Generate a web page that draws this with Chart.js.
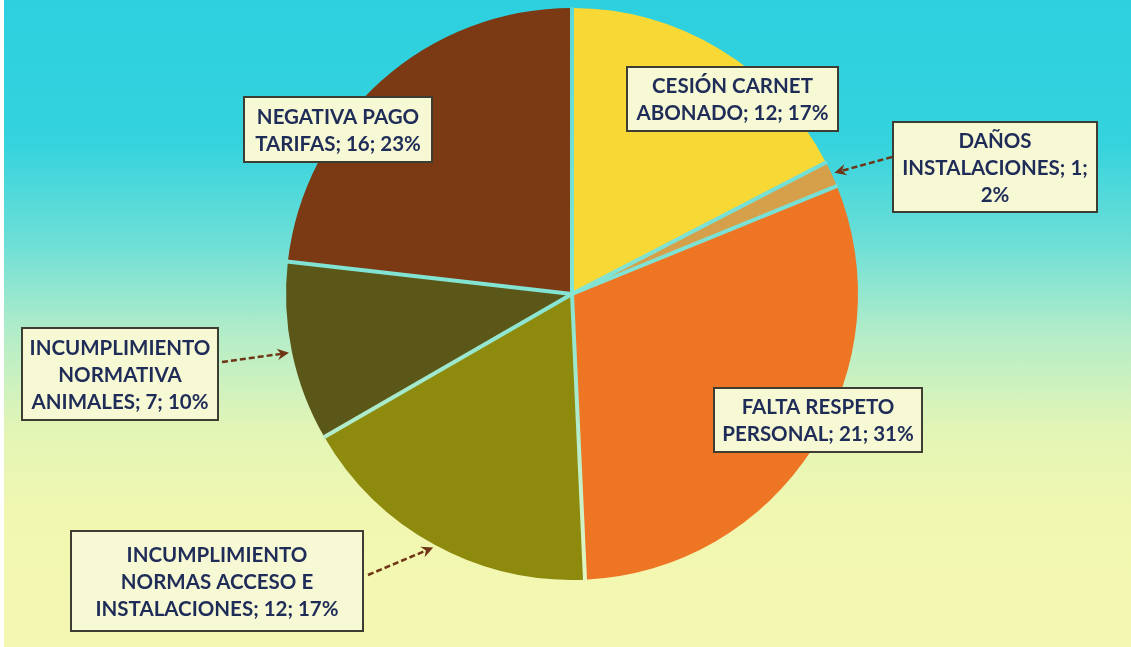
<!DOCTYPE html>
<html>
<head>
<meta charset="utf-8">
<script src="https://cdn.jsdelivr.net/npm/chart.js@4.4.1/dist/chart.umd.min.js"></script>
<style>
  html, body { margin: 0; padding: 0; }
  body {
    width: 1131px; height: 647px; overflow: hidden;
    background: #fff;
  }
  .wrap {
    position: absolute; left: 4px; top: 0; width: 1127px; height: 647px;
    background: linear-gradient(to bottom, #2dd0df 0%, #34d3de 22%, #6fdfd6 38%, #b5edc8 52%, #e2f5b6 66%, #f1f7b0 80%, #f4f7b2 100%);
  }
  canvas { position: absolute; left: -4px; top: 0; }
</style>
</head>
<body>
<div class="wrap">
  <canvas id="pieChart" width="1131" height="647"></canvas>
</div>
<script>
const ctxPie = document.getElementById('pieChart');

let categories = ['CESIÓN CARNET ABONADO', 'DAÑOS INSTALACIONES', 'FALTA RESPETO PERSONAL',
  'INCUMPLIMIENTO NORMAS ACCESO E INSTALACIONES', 'INCUMPLIMIENTO NORMATIVA ANIMALES', 'NEGATIVA PAGO TARIFAS'];
let values = [12, 1, 21, 12, 7, 16];
let percents = [17, 2, 31, 17, 10, 23];
let sliceColors = ['#f8d835', '#d6a04a', '#ee7523', '#8d8a0e', '#5b5719', '#7b3a13'];

// label boxes: x, y, w, h, wrap width, arrow start (null = no arrow)
let boxes = [
  { x: 627, y: 67, w: 211, h: 64, wrap: 205, arrow: null },
  { x: 893, y: 122, w: 204, h: 90, wrap: 195, arrow: [892, 157] },
  { x: 714, y: 388, w: 208, h: 64, wrap: 200, arrow: null },
  { x: 71, y: 531, w: 292, h: 100, wrap: 258, arrow: [368, 575] },
  { x: 22, y: 328, w: 196, h: 92, wrap: 192, arrow: [222, 362] },
  { x: 244, y: 97, w: 188, h: 65, wrap: 185, arrow: null }
];

function wrapText(ctx, text, maxW) {
  let words = text.split(' ');
  let lines = [];
  let cur = '';
  words.forEach(w => {
    let test = cur ? cur + ' ' + w : w;
    if (cur && ctx.measureText(test).width > maxW) {
      lines.push(cur);
      cur = w;
    } else {
      cur = test;
    }
  });
  if (cur) lines.push(cur);
  return lines;
}

// thin light lines between the slices
const separatorPlugin = {
  id: 'separators',
  afterDatasetsDraw(chart) {
    const ctx = chart.ctx;
    const arcs = chart.getDatasetMeta(0).data;
    const grad = ctx.createLinearGradient(0, 0, 0, chart.height);
    grad.addColorStop(0, '#5ad8d9');
    grad.addColorStop(0.45, '#84e4d3');
    grad.addColorStop(0.9, '#e6f5c2');
    ctx.save();
    ctx.strokeStyle = grad;
    ctx.lineWidth = 4;
    arcs.forEach(arc => {
      ctx.beginPath();
      ctx.moveTo(arc.x, arc.y);
      ctx.lineTo(arc.x + Math.cos(arc.startAngle) * (arc.outerRadius + 1),
                 arc.y + Math.sin(arc.startAngle) * (arc.outerRadius + 1));
      ctx.stroke();
    });
    ctx.restore();
  }
};

const labelPlugin = {
  id: 'labelBoxes',
  afterDatasetsDraw(chart) {
    const ctx = chart.ctx;
    const arcs = chart.getDatasetMeta(0).data;
    ctx.save();
    ctx.font = 'bold 20.5px Lato, "DejaVu Sans", sans-serif';
    arcs.forEach((arc, i) => {
      const b = boxes[i];
      if (b.arrow) {
        const mid = (arc.startAngle + arc.endAngle) / 2;
        const r = arc.outerRadius + 3;
        const tx = arc.x + Math.cos(mid) * r;
        const ty = arc.y + Math.sin(mid) * r;
        const sx = b.arrow[0], sy = b.arrow[1];
        const ang = Math.atan2(ty - sy, tx - sx);
        ctx.strokeStyle = '#6e3516';
        ctx.fillStyle = '#6e3516';
        ctx.lineWidth = 2.5;
        ctx.setLineDash([6, 3]);
        ctx.beginPath();
        ctx.moveTo(sx, sy);
        ctx.lineTo(tx - Math.cos(ang) * 8, ty - Math.sin(ang) * 8);
        ctx.stroke();
        ctx.setLineDash([]);
        ctx.beginPath();
        ctx.moveTo(tx, ty);
        ctx.lineTo(tx - Math.cos(ang - 0.45) * 13, ty - Math.sin(ang - 0.45) * 13);
        ctx.lineTo(tx - Math.cos(ang) * 8, ty - Math.sin(ang) * 8);
        ctx.lineTo(tx - Math.cos(ang + 0.45) * 13, ty - Math.sin(ang + 0.45) * 13);
        ctx.closePath();
        ctx.fill();
      }
      ctx.fillStyle = '#f6f9d4';
      ctx.fillRect(b.x, b.y, b.w, b.h);
      ctx.strokeStyle = '#3e3d33';
      ctx.lineWidth = 2;
      ctx.strokeRect(b.x, b.y, b.w, b.h);

      const text = categories[i] + '; ' + values[i] + '; ' + percents[i] + '%';
      const lines = wrapText(ctx, text, b.wrap);
      const lh = 27;
      const cx = b.x + b.w / 2;
      const top = b.y + b.h / 2 - (lines.length - 1) * lh / 2;
      ctx.fillStyle = '#1f2c58';
      ctx.textAlign = 'center';
      ctx.textBaseline = 'middle';
      lines.forEach((ln, k) => ctx.fillText(ln, cx, top + k * lh + 1));
    });
    ctx.restore();
  }
};

const pieChart = new Chart(ctxPie, {
  type: 'pie',
  data: {
    labels: categories,
    datasets: [{
      data: values,
      backgroundColor: sliceColors,
      borderWidth: 0
    }]
  },
  options: {
    responsive: false,
    animation: false,
    layout: {
      padding: { left: 286, right: 273, top: 8, bottom: 67 }
    },
    plugins: {
      legend: { display: false },
      tooltip: { enabled: false }
    }
  },
  plugins: [separatorPlugin, labelPlugin]
});
</script>
</body>
</html>
